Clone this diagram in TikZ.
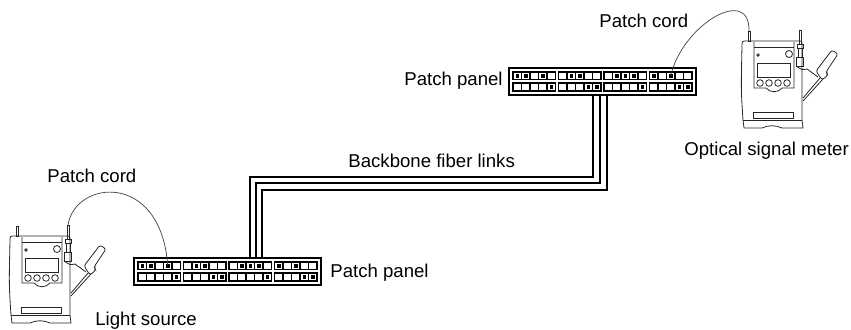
\documentclass[tikz,border=0pt]{standalone}
\usepackage{fontspec}
\setmainfont{Liberation Sans}
\usetikzlibrary{calc}

\tikzset{
  etiqueta/.style={inner sep=0pt, anchor=base west, font=\fontsize{9.3}{11}\selectfont},
  fibra/.style={line width=0.7pt},
  cordon/.style={line width=0.35pt, black!75},
  % panel de parcheo: 4 grupos de 2x5 puertos
  panel/.pic={
    \draw[line width=0.75pt] (0,0) rectangle (187,27);
    \foreach \g in {0,...,3}{
      \foreach \c in {0,...,4}{
        \draw[line width=0.55pt] ({4+45.5*\g+8.5*\c},4) rectangle ++(8.5,7.5);
        \draw[line width=0.55pt] ({4+45.5*\g+8.5*\c},15) rectangle ++(8.5,8);
      }
    }
    % puertos ocupados
    \foreach \g/\f/\c in {0/0/0,0/0/1,0/0/3,1/0/1,1/0/2,2/0/1,2/0/2,2/0/3,3/0/0,3/0/2,
                          0/1/4,1/1/3,1/1/4,2/1/4,3/1/3,3/1/4}
      \fill ({4+45.5*\g+8.5*\c+2.5},{6+11.3*\f}) rectangle ++(3.5,3.5);
    \coordinate (-tl) at (0,0);
    \coordinate (-bl) at (0,27);
    \coordinate (-a) at (33.75,7.5);
    \coordinate (-b) at (161.75,7.5);
  },
  % equipo de mano (fuente / medidor)
  medidor/.pic={
    \begin{scope}[line width=0.4pt, black!85]
    % cuerpo
    \draw (2,88) -- (1,80) .. controls (-1,50) .. (0,6) .. controls (0,1) .. (5,1)
          -- (56,1) .. controls (60,1) .. (60,5) -- (60,80) -- (61,88)
          -- (40,88) .. controls (34,85) and (26,85) .. (20,88) -- cycle;
    \draw (1,80) -- (60,80);
    % frontal
    \draw (12,2) -- (12,48) -- (24,48) .. controls (28,53) and (36,53) .. (40,48)
          -- (52,48) -- (52,2);
    \draw (12,7) -- (52,7);
    \draw (16,15) circle (1.2);
    \draw (47,14) circle (3.5);
    \draw (15,23) rectangle (48,37);
    \foreach \x in {18,27,36,45}
      \draw (\x,43) circle (3.3);
    \draw (11,72) rectangle (51,78);
    % conectores
    \draw (6,1) rectangle (8,-9);
    \draw (57,-10) rectangle (59,4);
    \draw (55,4) rectangle (61,8);
    \draw (56,8) rectangle (60,17);
    \draw (54,17) rectangle (61,26);
    % correa y tapa
    \draw (54,26) .. controls (60,30) .. (65,29) -- (76,37);
    \draw (61,58) -- (78,38);
    \draw (61,61) -- (81,39);
    \draw[rounded corners=1.2pt] (74,31) -- (90,10) -- (96,14) -- (84,32)
          -- (86,35) -- (80,40) -- cycle;
    \end{scope}
    \coordinate (-ant) at (7,-9);
    \coordinate (-pin) at (58,-10);
  }
}

\begin{document}
\begin{tikzpicture}[x=0.5pt, y=-0.5pt]
\useasboundingbox (0,0) rectangle (851,329);

% equipos y paneles
\pic (ls) at (10,235) {medidor};
\pic (om) at (742,40) {medidor};
\pic (up) at (509,68) {panel};
\pic (lo) at (134,258) {panel};

% enlaces troncales
\draw[fibra] ($(up-bl)+(84,0)$) -- ++(0,82) -| ($(lo-tl)+(116,0)$);
\draw[fibra] ($(up-bl)+(91,0)$) -- ++(0,88) -| ($(lo-tl)+(122,0)$);
\draw[fibra] ($(up-bl)+(98,0)$) -- ++(0,95) -| ($(lo-tl)+(128,0)$);

% cordones de parcheo
\draw[cordon] (ls-pin) .. controls +(7,-45) and +(-7,-95) .. (lo-a);
\draw[cordon] (up-b) .. controls +(12,-51) and +(1,-46) .. (om-ant);

% textos
\node[etiqueta] (pc1) at (599,27) {Patch cord};
\node[etiqueta, anchor=base east] (pp1) at (503,85) {Patch panel};
\node[etiqueta] (osm) at (684,155) {Optical signal meter};
\node[etiqueta] (bfl) at (348,167) {Backbone fiber links};
\node[etiqueta] (pc2) at (47,182) {Patch cord};
\node[etiqueta] (pp2) at (330,277) {Patch panel};
\node[etiqueta] (lsr) at (95,325) {Light source};
\end{tikzpicture}
\end{document}
